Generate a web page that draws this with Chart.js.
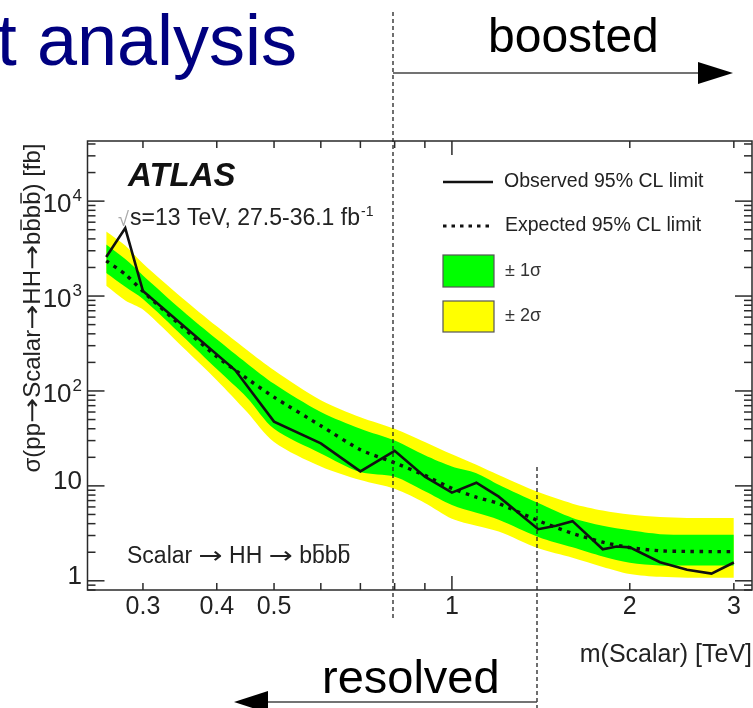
<!DOCTYPE html>
<html>
<head>
<meta charset="utf-8">
<script src="https://cdn.jsdelivr.net/npm/chart.js@4.4.1/dist/chart.umd.min.js"></script>
<style>
  html, body { margin: 0; padding: 0; background: #fff; }
  #wrap { width: 753px; height: 708px; }
</style>
</head>
<body>
<div id="wrap"><canvas id="limit-chart" width="753" height="708"></canvas></div>
<script>
// mass points (TeV) for the expected limit and bands
const massPoints = [0.26, 0.28, 0.30, 0.35, 0.40, 0.45, 0.50, 0.60, 0.70, 0.80, 0.90, 1.0, 1.1, 1.2, 1.4, 1.6, 1.8, 2.0, 2.25, 2.5, 2.75, 3.0];
const expected   = [2350, 1700, 1120, 470, 230, 135, 86, 43, 24, 17.5, 12.9, 9.4, 7.6, 6.5, 4.3, 3.15, 2.55, 2.24, 2.07, 2.04, 2.03, 2.03];
const sigma1Up   = [3500, 2450, 1650, 700, 350, 195, 119, 60, 40, 30, 21, 16, 13.6, 10.3, 6.6, 4.6, 3.8, 3.4, 3.1, 3.05, 3.05, 3.05];
const sigma1Down = [1750, 1250, 930, 380, 170, 85, 40, 22, 14, 12.5, 8.8, 6.3, 5.2, 4.4, 2.9, 2.25, 1.8, 1.55, 1.45, 1.45, 1.45, 1.45];
const sigma2Up   = [4800, 3400, 2200, 950, 480, 270, 165, 80, 53, 40, 29, 21.5, 16.7, 13, 8.6, 6.5, 5.5, 5.0, 4.7, 4.6, 4.6, 4.6];
const sigma2Down = [1280, 900, 720, 290, 130, 60, 29, 16, 11.5, 9.3, 6.6, 4.5, 3.8, 3.3, 2.2, 1.75, 1.4, 1.18, 1.1, 1.08, 1.08, 1.08];

// observed limit
const obsMass = [0.26, 0.28, 0.30, 0.43, 0.50, 0.60, 0.70, 0.80, 0.90, 1.0, 1.1, 1.2, 1.4, 1.5, 1.6, 1.8, 1.9, 2.0, 2.25, 2.5, 2.75, 3.0];
const observed = [2580, 5200, 1130, 165, 47.5, 28, 14.2, 23.4, 12.5, 8.5, 10.8, 7.7, 3.5, 3.8, 4.25, 2.15, 2.3, 2.25, 1.57, 1.31, 1.19, 1.56];

// axis ticks and labels
const xTickValues = [0.3, 0.4, 0.5, 0.6, 0.7, 0.8, 0.9, 1, 2, 3];
const xLongTicks = [1];
const xLabelValues = [0.3, 0.4, 0.5, 1, 2, 3];
const xLabelText = ['0.3', '0.4', '0.5', '1', '2', '3'];
const yLabelValues = [1, 10, 100, 1000, 10000];
const yLabelBase = ['1', '10', '10', '10', '10'];
const yLabelExp = ['', '', '2', '3', '4'];

const FONT = '"Liberation Sans", Arial, Helvetica, sans-serif';
const ARROW_FONT = '"DejaVu Sans", sans-serif';
const ARROW_STRETCH = 1.25;

function toXY(xs, ys) {
    return xs.map(function(x, i) { return { x: x, y: ys[i] }; });
}

// text made of pieces: [text, overline, font]; arrow pieces are stretched wider
function pieceWidth(ctx, p, size) {
    ctx.font = size + 'px ' + (p[2] || FONT);
    const w = ctx.measureText(p[0]).width;
    return p[2] === ARROW_FONT ? w * ARROW_STRETCH : w;
}
function richWidth(ctx, parts, size) {
    return parts.reduce(function(w, p) { return w + pieceWidth(ctx, p, size); }, 0);
}
function richText(ctx, parts, x, y, size) {
    let cx = x;
    parts.forEach(function(p) {
        const w = pieceWidth(ctx, p, size);
        if (p[2] === ARROW_FONT) {
            ctx.save();
            ctx.translate(cx, y);
            ctx.scale(ARROW_STRETCH, 1);
            ctx.fillText(p[0], 0, 0);
            ctx.restore();
        } else {
            ctx.fillText(p[0], cx, y);
        }
        if (p[1]) ctx.fillRect(cx + w * 0.1, y - size * 0.82, w * 0.8, Math.max(1.2, size * 0.06));
        cx += w;
    });
}

function line(ctx, x1, y1, x2, y2) {
    ctx.beginPath();
    ctx.moveTo(x1, y1);
    ctx.lineTo(x2, y2);
    ctx.stroke();
}

const decorations = {
    id: 'decorations',
    beforeDraw: function(chart) {
        const ctx = chart.ctx;
        ctx.save();
        ctx.fillStyle = '#fff';
        ctx.fillRect(0, 0, chart.width, chart.height);
        ctx.restore();
    },
    afterDraw: function(chart) {
        const ctx = chart.ctx;
        const a = chart.chartArea;
        const xs = chart.scales.x, ys = chart.scales.y;
        ctx.save();

        // frame
        ctx.strokeStyle = '#2a2a2a';
        ctx.lineWidth = 1.5;
        ctx.strokeRect(a.left, a.top, a.right - a.left, a.bottom - a.top);

        // x ticks, bottom and top
        xTickValues.forEach(function(v) {
            const px = xs.getPixelForValue(v);
            const len = xLongTicks.indexOf(v) >= 0 ? 14 : 7;
            line(ctx, px, a.bottom, px, a.bottom - len);
            line(ctx, px, a.top, px, a.top + len);
        });

        // y ticks, left and right
        for (let d = 0.1; d <= 1e4 * 1.01; d *= 10) {
            for (let k = 1; k <= 9; k++) {
                const v = k * d;
                if (v < ys.min || v > ys.max) continue;
                const py = ys.getPixelForValue(v);
                const len = k === 1 ? 17 : 8;
                line(ctx, a.left, py, a.left + len, py);
                line(ctx, a.right, py, a.right - len, py);
            }
        }

        // x labels
        ctx.fillStyle = '#222';
        ctx.font = '25px ' + FONT;
        ctx.textAlign = 'center';
        ctx.textBaseline = 'middle';
        xLabelValues.forEach(function(v, i) {
            ctx.fillText(xLabelText[i], xs.getPixelForValue(v), 607);
        });

        // y labels
        ctx.textAlign = 'right';
        yLabelValues.forEach(function(v, i) {
            const py = ys.getPixelForValue(v);
            if (yLabelExp[i]) {
                ctx.font = '17px ' + FONT;
                const ew = ctx.measureText(yLabelExp[i]).width;
                ctx.fillText(yLabelExp[i], 82, py - 5);
                ctx.font = '26px ' + FONT;
                ctx.fillText(yLabelBase[i], 82 - ew - 1, py + 4);
            } else {
                ctx.font = '26px ' + FONT;
                ctx.fillText(yLabelBase[i], 82, py - 4);
            }
        });

        // x title
        ctx.font = '25px ' + FONT;
        ctx.textAlign = 'right';
        ctx.fillText('m(Scalar) [TeV]', 752, 655);

        // y title (rotated)
        ctx.save();
        ctx.translate(31, 308);
        ctx.rotate(-Math.PI / 2);
        ctx.textAlign = 'left';
        ctx.textBaseline = 'alphabetic';
        const yTitle = [
            ['\u03c3(pp', false], ['\u2192', false, ARROW_FONT], ['Scalar', false], ['\u2192', false, ARROW_FONT],
            ['HH', false], ['\u2192', false, ARROW_FONT], ['b', false], ['b', true], ['b', false], ['b', true], [') [fb]', false]
        ];
        richText(ctx, yTitle, -richWidth(ctx, yTitle, 24) / 2, 9, 24);
        ctx.restore();

        // ATLAS label and energy text
        ctx.textAlign = 'left';
        ctx.textBaseline = 'alphabetic';
        ctx.fillStyle = '#111';
        ctx.font = 'italic bold 33px ' + FONT;
        ctx.fillText('ATLAS', 128, 186);
        ctx.fillStyle = '#aaa';
        ctx.font = '20px ' + FONT;
        ctx.fillText('\u221a', 118, 226);
        ctx.fillStyle = '#222';
        ctx.font = '23px ' + FONT;
        const eText = 's=13 TeV, 27.5-36.1 fb';
        ctx.fillText(eText, 130, 225);
        const ew = ctx.measureText(eText).width;
        ctx.font = '14px ' + FONT;
        ctx.fillText('-1', 130 + ew + 1, 216);

        // process label
        richText(ctx, [
            ['Scalar ', false], ['\u2192', false, ARROW_FONT], [' HH ', false], ['\u2192', false, ARROW_FONT],
            [' b', false], ['b', true], ['b', false], ['b', true]
        ], 127, 563, 23);

        // legend
        ctx.strokeStyle = '#111';
        ctx.lineWidth = 2.6;
        line(ctx, 443, 182, 493, 182);
        ctx.lineWidth = 3.2;
        ctx.setLineDash([3.5, 5]);
        line(ctx, 443, 226, 493, 226);
        ctx.setLineDash([]);
        ctx.lineWidth = 1.2;
        ctx.strokeStyle = '#555';
        ctx.fillStyle = '#00ff00';
        ctx.fillRect(443, 255, 51, 32);
        ctx.strokeRect(443, 255, 51, 32);
        ctx.fillStyle = '#ffff00';
        ctx.fillRect(443, 301, 51, 31);
        ctx.strokeRect(443, 301, 51, 31);
        ctx.fillStyle = '#222';
        ctx.textBaseline = 'middle';
        ctx.font = '19.5px ' + FONT;
        ctx.fillText('Observed 95% CL limit', 504, 182);
        ctx.fillText('Expected 95% CL limit', 505, 226);
        ctx.fillStyle = '#333';
        ctx.font = '18px ' + FONT;
        ctx.fillText('\u00b1 1\u03c3', 505, 271);
        ctx.fillText('\u00b1 2\u03c3', 505, 316);

        // slide overlay: title, regions, dashed separators, arrows
        ctx.fillStyle = '#000080';
        ctx.textBaseline = 'alphabetic';
        ctx.textAlign = 'right';
        ctx.font = '72px ' + FONT;
        ctx.fillText('t analysis', 297, 65);
        ctx.fillStyle = '#000';
        ctx.textAlign = 'left';
        ctx.font = '48px ' + FONT;
        ctx.fillText('boosted', 488, 52);
        ctx.font = '47px ' + FONT;
        ctx.fillText('resolved', 322, 693);

        ctx.strokeStyle = '#222';
        ctx.lineWidth = 1.3;
        ctx.setLineDash([4, 3]);
        line(ctx, 393, 12, 393, 620);
        line(ctx, 537, 467, 537, 708);
        ctx.setLineDash([]);

        ctx.strokeStyle = '#444';
        ctx.lineWidth = 1.6;
        line(ctx, 393, 73, 700, 73);
        line(ctx, 537, 702, 266, 702);
        ctx.fillStyle = '#000';
        ctx.beginPath();
        ctx.moveTo(698, 62); ctx.lineTo(733, 73); ctx.lineTo(698, 84); ctx.closePath();
        ctx.fill();
        ctx.beginPath();
        ctx.moveTo(268, 691); ctx.lineTo(234, 702); ctx.lineTo(268, 713); ctx.closePath();
        ctx.fill();

        ctx.restore();
    }
};

const ctx = document.getElementById('limit-chart').getContext('2d');
const limitChart = new Chart(ctx, {
    type: 'line',
    data: {
        datasets: [
            { label: 'Observed', data: toXY(obsMass, observed), borderColor: '#111', borderWidth: 2.6, fill: false, tension: 0, order: 0 },
            { label: 'Expected', data: toXY(massPoints, expected), borderColor: '#111', borderWidth: 3.4, borderDash: [3.5, 5.5], fill: false, tension: 0.2, order: 1 },
            { label: '+1 sigma', data: toXY(massPoints, sigma1Up), borderColor: 'rgba(0,0,0,0)', borderWidth: 0, backgroundColor: '#00ff00', fill: '+1', tension: 0.3, order: 2 },
            { label: '-1 sigma', data: toXY(massPoints, sigma1Down), borderColor: 'rgba(0,0,0,0)', borderWidth: 0, fill: false, tension: 0.3, order: 3 },
            { label: '+2 sigma', data: toXY(massPoints, sigma2Up), borderColor: 'rgba(0,0,0,0)', borderWidth: 0, backgroundColor: '#ffff00', fill: '+1', tension: 0.3, order: 4 },
            { label: '-2 sigma', data: toXY(massPoints, sigma2Down), borderColor: 'rgba(0,0,0,0)', borderWidth: 0, fill: false, tension: 0.3, order: 5 }
        ]
    },
    options: {
        responsive: false,
        animation: false,
        layout: { padding: { left: 87.5, right: 1, top: 141, bottom: 118 } },
        elements: { point: { radius: 0, hoverRadius: 0 } },
        plugins: { legend: { display: false }, tooltip: { enabled: false } },
        scales: {
            x: { type: 'logarithmic', min: 0.2417, max: 3.22, display: false },
            y: { type: 'logarithmic', min: 0.80, max: 43000, display: false }
        }
    },
    plugins: [decorations]
});
</script>
</body>
</html>
